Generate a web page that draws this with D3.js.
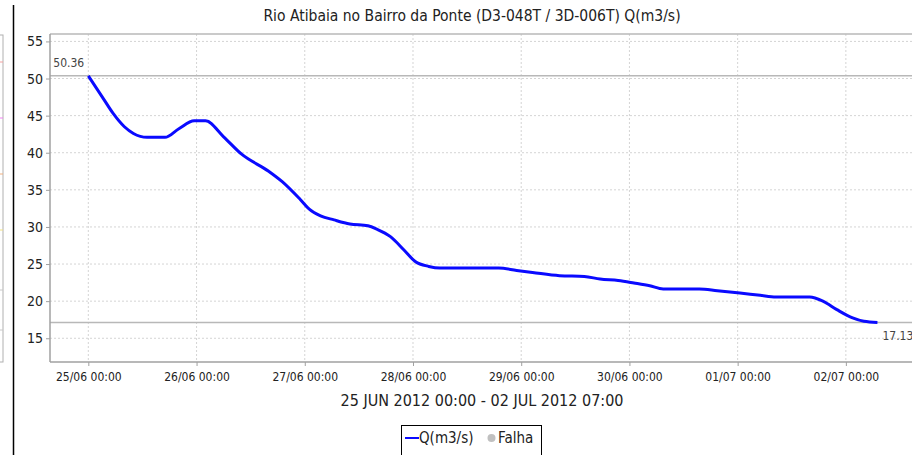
<!DOCTYPE html>
<html>
<head>
<meta charset="utf-8">
<script src="https://cdn.jsdelivr.net/npm/d3@7"></script>
<style>
    body { margin: 0; background: #fff; }
    svg { display: block; font-family: "DejaVu Sans Condensed", "DejaVu Sans", sans-serif; }
</style>
</head>
<body>
<div id="chart"></div>
<script>
// Vazao Q(m3/s) - leituras aproximadas do grafico
const times = [
    '2012-06-25T00:00', '2012-06-25T03:00', '2012-06-25T05:30', '2012-06-25T08:00', '2012-06-25T10:00',
    '2012-06-25T13:00', '2012-06-25T17:00', '2012-06-25T20:00', '2012-06-25T23:30', '2012-06-26T02:00',
    '2012-06-26T06:00', '2012-06-26T10:00', '2012-06-26T16:00', '2012-06-26T19:00', '2012-06-26T23:00',
    '2012-06-27T01:00', '2012-06-27T03:30', '2012-06-27T06:30', '2012-06-27T10:00', '2012-06-27T14:00',
    '2012-06-27T16:00', '2012-06-27T19:00', '2012-06-27T22:00', '2012-06-28T00:30', '2012-06-28T03:30',
    '2012-06-28T06:00', '2012-06-28T19:00', '2012-06-28T23:00', '2012-06-29T02:30', '2012-06-29T08:30',
    '2012-06-29T14:00', '2012-06-29T17:30', '2012-06-29T21:30', '2012-06-30T01:00', '2012-06-30T04:30',
    '2012-06-30T07:30', '2012-06-30T15:30', '2012-06-30T19:30', '2012-07-01T00:30', '2012-07-01T05:00',
    '2012-07-01T08:30', '2012-07-01T16:00', '2012-07-01T19:00', '2012-07-01T22:00', '2012-07-02T01:30',
    '2012-07-02T04:00', '2012-07-02T07:00'
];
const flows = [
    50.36, 47.6, 45.3, 43.5, 42.6,
    42.07, 42.07, 43.2, 44.3, 44.3,
    42.15, 39.8, 37.5, 36.1, 33.7,
    32.4, 31.5, 30.95, 30.4, 30.15,
    29.7, 28.7, 26.9, 25.35, 24.68,
    24.46, 24.46, 24.14, 23.87, 23.43,
    23.33, 22.98, 22.78, 22.45, 22.08,
    21.64, 21.64, 21.41, 21.1, 20.78,
    20.56, 20.56, 19.97, 18.86, 17.74,
    17.28, 17.13
];
const yTicks = [15, 20, 25, 30, 35, 40, 45, 50, 55];
const markers = [50.36, 17.13];
const title = 'Rio Atibaia no Bairro da Ponte (D3-048T / 3D-006T) Q(m3/s)';
const periodLabel = '25 JUN 2012 00:00 - 02 JUL 2012 07:00';
const legendItems = ['Q(m3/s)', 'Falha'];

const W = 912, H = 455;
const plot = { left: 50, right: 912, top: 34, bottom: 362 };

const parse = d3.timeParse('%Y-%m-%dT%H:%M');
const data = times.map((t, i) => ({ date: parse(t), q: flows[i] }));

const svg = d3.select('#chart').append('svg')
    .attr('width', W)
    .attr('height', H);

// painel vizinho cortado a esquerda
const side = svg.append('g');
side.append('rect')
    .attr('x', -20).attr('y', 35)
    .attr('width', 23).attr('height', 327)
    .attr('fill', '#fff')
    .attr('stroke', '#b0b0b0');
[[62, '#f4a0a0'], [118, '#f080f0'], [174, '#f0b080'], [230, '#f0e080'], [290, '#c8c8c8'], [330, '#c8c8c8']].forEach(([y, c]) => {
    side.append('line')
        .attr('x1', 0).attr('x2', 3).attr('y1', y).attr('y2', y)
        .attr('stroke', c).attr('stroke-width', 1);
});
svg.append('line')
    .attr('x1', 13.5).attr('x2', 13.5).attr('y1', 5).attr('y2', H)
    .attr('stroke', '#000').attr('stroke-width', 1.5);

const x = d3.scaleTime()
    .domain([parse('2012-06-24T15:30'), parse('2012-07-02T14:40')])
    .range([plot.left, plot.right]);

const y = d3.scaleLinear()
    .domain([11.8, 56])
    .range([plot.bottom, plot.top]);

const xTicks = d3.timeDay.range(parse('2012-06-25T00:00'), parse('2012-07-02T12:00'));

svg.append('defs').append('clipPath').attr('id', 'clip')
    .append('rect')
    .attr('x', plot.left).attr('y', plot.top)
    .attr('width', plot.right - plot.left).attr('height', plot.bottom - plot.top);

// Grade
const grid = svg.append('g');
grid.selectAll('.hg').data(yTicks).join('line')
    .attr('x1', plot.left).attr('x2', plot.right)
    .attr('y1', d => y(d)).attr('y2', d => y(d))
    .attr('stroke', '#d4d4d4').attr('stroke-dasharray', '2,2');
grid.selectAll('.vg').data(xTicks).join('line')
    .attr('x1', d => x(d)).attr('x2', d => x(d))
    .attr('y1', plot.top).attr('y2', plot.bottom)
    .attr('stroke', '#d4d4d4').attr('stroke-dasharray', '2,2');

// borda superior
svg.append('line')
    .attr('x1', plot.left).attr('x2', plot.right)
    .attr('y1', plot.top).attr('y2', plot.top)
    .attr('stroke', '#b8b8b8').attr('stroke-width', 1.5);

// Marcadores max / min
markers.forEach(v => {
    svg.append('line')
        .attr('x1', plot.left).attr('x2', plot.right)
        .attr('y1', y(v)).attr('y2', y(v))
        .attr('stroke', '#b8b8b8').attr('stroke-width', 1.5);
});

// Eixos
const yAxis = svg.append('g')
    .attr('transform', `translate(${plot.left},0)`)
    .call(d3.axisLeft(y).tickValues(yTicks).tickSize(4).tickPadding(3));
const xAxis = svg.append('g')
    .attr('transform', `translate(0,${plot.bottom})`)
    .call(d3.axisBottom(x).tickValues(xTicks).tickSize(4).tickPadding(6)
        .tickFormat(d3.timeFormat('%d/%m %H:%M')));

[yAxis, xAxis].forEach(a => {
    a.select('.domain').attr('stroke', '#a0a0a0').attr('stroke-width', 1.5);
    a.selectAll('.tick line').attr('stroke', '#a0a0a0');
    a.selectAll('.tick text').attr('fill', '#222')
        .style('font-family', '"DejaVu Sans Condensed", "DejaVu Sans", sans-serif');
});
yAxis.selectAll('.tick text').style('font-size', '14px');
xAxis.selectAll('.tick text').style('font-size', '12px');
yAxis.select('.domain').attr('d', `M0,${plot.top}V${plot.bottom}`);
xAxis.select('.domain').attr('d', `M${plot.left},0H${plot.right}`);

// Serie
const line = d3.line()
    .x(d => x(d.date))
    .y(d => y(d.q))
    .curve(d3.curveMonotoneX);

svg.append('path')
    .datum(data)
    .attr('clip-path', 'url(#clip)')
    .attr('fill', 'none')
    .attr('stroke', '#0a0aff')
    .attr('stroke-width', 3)
    .attr('stroke-linejoin', 'round')
    .attr('d', line);

// rotulos max / min
const first = data[0], last = data[data.length - 1];
svg.append('text')
    .attr('x', x(first.date) - 35)
    .attr('y', y(first.q) - 9)
    .style('font-size', '12px')
    .attr('fill', '#444')
    .text(first.q.toFixed(2));
svg.append('text')
    .attr('x', x(last.date) + 5)
    .attr('y', y(last.q) + 18)
    .style('font-size', '12px')
    .attr('fill', '#444')
    .text(last.q.toFixed(2));

// Titulo
svg.append('text')
    .attr('x', 472)
    .attr('y', 21)
    .attr('text-anchor', 'middle')
    .style('font-size', '15.5px')
    .attr('fill', '#222')
    .text(title);

svg.append('text')
    .attr('x', 482)
    .attr('y', 406)
    .attr('text-anchor', 'middle')
    .style('font-size', '16px')
    .attr('fill', '#222')
    .text(periodLabel);

// Legenda
const lg = svg.append('g');
lg.append('rect')
    .attr('x', 401.5).attr('y', 425.5)
    .attr('width', 140).attr('height', 40)
    .attr('fill', '#fff').attr('stroke', '#000');
lg.append('line')
    .attr('x1', 405).attr('x2', 419).attr('y1', 438).attr('y2', 438)
    .attr('stroke', '#0a0aff').attr('stroke-width', 2);
lg.append('text')
    .attr('x', 419).attr('y', 443)
    .style('font-size', '15px').attr('fill', '#222')
    .text(legendItems[0]);
lg.append('circle')
    .attr('cx', 491.5).attr('cy', 438).attr('r', 4)
    .attr('fill', '#c0c0c0');
lg.append('text')
    .attr('x', 498).attr('y', 443)
    .style('font-size', '15px').attr('fill', '#222')
    .text(legendItems[1]);
</script>
</body>
</html>
